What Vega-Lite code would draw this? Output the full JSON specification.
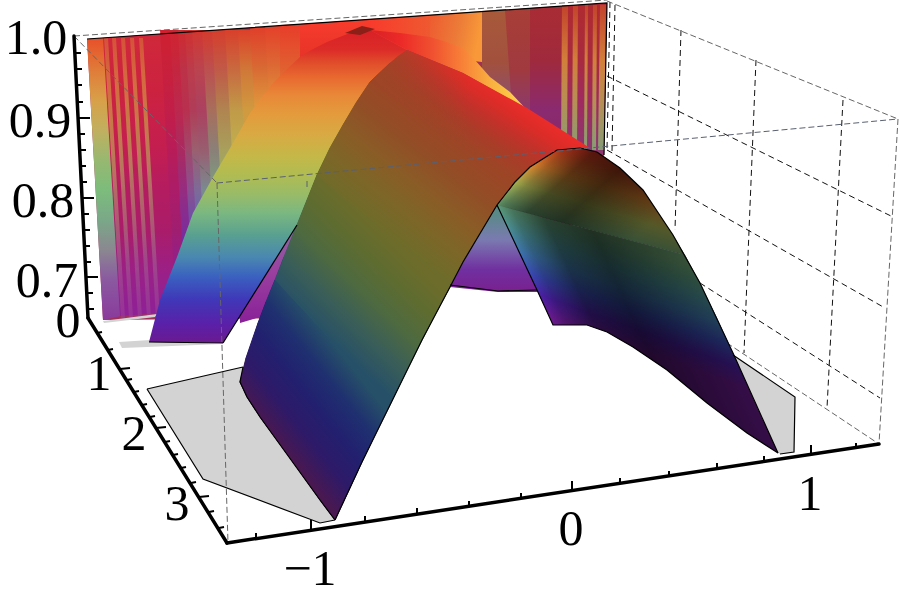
{"$schema":"https://vega.github.io/schema/vega-lite/v6.json","width":900,"height":599,"padding":0,"autosize":"none","background":"white","config":{"view":{"stroke":null}},
"encoding":{"x":{"field":"x","type":"quantitative","scale":{"domain":[0,900],"nice":false,"zero":false},"axis":null},"y":{"field":"y","type":"quantitative","scale":{"domain":[599,0],"nice":false,"zero":false},"axis":null}},
"datasets":{
"griddark":[{"x":610,"y":2,"x2":607,"y2":150},{"x":615,"y":5,"x2":612,"y2":152},{"x":681,"y":30,"x2":675,"y2":230},{"x":756,"y":60,"x2":744,"y2":353},{"x":843,"y":100,"x2":827,"y2":408},{"x":607,"y":76,"x2":893,"y2":217},{"x":607,"y":150,"x2":885,"y2":308},{"x":700,"y":283,"x2":880,"y2":398}],
"gridgrey":[{"x":607,"y":1,"x2":898,"y2":119},{"x":898,"y":119,"x2":879,"y2":444},{"x":727,"y":343,"x2":879,"y2":444},{"x":74,"y":36,"x2":607,"y2":0}],
"floor":[{"b":1,"x":[147,243,240,247,260,320,335,320,203],"y":[389,367,382,397,417,500,520,523,479]},{"b":2,"x":[733,795,794,780,778],"y":[355,397,452,454,453]},{"b":3,"x":[119,150,222,122],"y":[342,340,344,348]},{"b":4,"x":[103,157,155,104],"y":[321,314,317,323]}],
"stripesL":[{"b":1,"x":[104,108,125,121],"y":[38,38,318,318]},{"b":2,"x":[112,116,133,129],"y":[38,38,318,318]},{"b":3,"x":[121,125,142,138],"y":[38,38,318,318]},{"b":4,"x":[130,134,151,147],"y":[38,38,318,318]},{"b":5,"x":[139,143,160,156],"y":[38,38,318,318]}],
"stripesR":[{"b":1,"x":[562,568,567,561],"y":[5,5,150,150]},{"b":2,"x":[573,578,577,572],"y":[5,5,150,150]},{"b":3,"x":[585,588,587,584],"y":[5,5,150,150]},{"b":4,"x":[593,597,596,592],"y":[5,5,150,150]},{"b":5,"x":[600,606,604,598],"y":[5,5,150,150]}],
"flank":[
{"b":1,"c":"#3f1a58","x":[240,247,260,290,298,246],"y":[382,397,417,458,424,358]},{"b":2,"c":"#3e1656","x":[290,320,335,349,298],"y":[458,500,520,490,424]},
{"b":3,"c":"#2c1c6c","x":[246,298,310,258],"y":[358,424,392,323]},{"b":4,"c":"#2c1a68","x":[298,349,362,310],"y":[424,490,462,392]},
{"b":5,"c":"#221f72","x":[258,310,321,266],"y":[323,392,367,302]},{"b":6,"c":"#1f2a70","x":[310,362,376,321],"y":[392,462,433,367]},
{"b":7,"c":"#1f3470","x":[266,321,332,275],"y":[302,367,342,280]},{"b":8,"c":"#1f3c6c","x":[321,376,390,332],"y":[367,433,405,342]},
{"b":9,"c":"#2a4c66","x":[275,332,345,284],"y":[280,342,314,257]},{"b":10,"c":"#285268","x":[332,390,406,345],"y":[342,405,372,314]},
{"b":11,"c":"#3a5e5a","x":[284,345,360,297],"y":[257,314,282,225]},{"b":12,"c":"#3f6350","x":[345,406,422,360],"y":[314,372,340,282]},
{"b":13,"c":"#4e6a40","x":[297,360,371,307],"y":[225,282,256,200]},{"b":14,"c":"#506a38","x":[360,422,436,371],"y":[282,340,313,256]},
{"b":15,"c":"#5e6c30","x":[307,371,383,317],"y":[200,256,231,175]},{"b":16,"c":"#5e6a2e","x":[371,436,450,383],"y":[256,313,287,231]},
{"b":17,"c":"#6e6c2a","x":[317,383,396,330],"y":[175,231,205,148]},{"b":18,"c":"#736a28","x":[383,450,463,396],"y":[231,287,262,205]},
{"b":19,"c":"#7d6628","x":[330,396,411,343],"y":[148,205,178,125]},{"b":20,"c":"#7e6226","x":[396,463,480,411],"y":[205,262,232,178]},
{"b":21,"c":"#8a5c26","x":[343,411,426,356],"y":[125,178,154,103]},{"b":22,"c":"#8a5824","x":[411,480,497,426],"y":[178,232,205,154]},
{"b":23,"c":"#924e26","x":[356,426,442,370],"y":[103,154,132,82]},{"b":24,"c":"#964c24","x":[426,497,515,442],"y":[154,205,182,132]},
{"b":25,"c":"#a8402a","x":[370,442,457,390],"y":[82,132,108,63]},{"b":26,"c":"#a84226","x":[442,515,530,457],"y":[132,182,167,108]}],
"outline":[
{"b":1,"x":[335,362,390,422,450,463,497,515,530,557,580,597,620,643,673,700,733,778],"y":[520,462,405,340,287,262,205,182,167,150,148,152,168,190,235,283,353,453]},
{"b":2,"x":[497,537,553,587,607,633,667,707,747,778],"y":[205,290,325,325,332,347,370,403,433,453]},
{"b":3,"x":[243,240,247,260,320,335],"y":[367,382,397,417,500,520]},
{"b":4,"x":[223,297],"y":[343,225]},
{"b":5,"x":[149,223],"y":[342,343]},
{"b":6,"x":[450,498,537],"y":[285,291,290]},
{"b":7,"x":[87,607,604],"y":[39,3,155]},
{"b":8,"x":[147,243],"y":[389,367]},
{"b":9,"x":[147,203,320,335],"y":[389,479,523,520]},
{"b":10,"x":[733,795,794,780],"y":[355,397,452,454]}],
"ticks":[{"x":75,"y":53,"x2":81,"y2":53},{"x":76,"y":69,"x2":82,"y2":69},{"x":76,"y":85,"x2":82,"y2":85},{"x":77,"y":102,"x2":83,"y2":102},{"x":78,"y":118,"x2":90,"y2":118},{"x":79,"y":134,"x2":85,"y2":134},{"x":80,"y":150,"x2":86,"y2":150},{"x":80,"y":166,"x2":86,"y2":166},{"x":81,"y":182,"x2":87,"y2":182},{"x":82,"y":198,"x2":94,"y2":198},{"x":83,"y":214,"x2":89,"y2":214},{"x":84,"y":230,"x2":90,"y2":230},{"x":84,"y":246,"x2":90,"y2":246},{"x":85,"y":262,"x2":91,"y2":262},{"x":86,"y":277,"x2":98,"y2":277},{"x":87,"y":293,"x2":93,"y2":293},{"x":88,"y":309,"x2":94,"y2":309},
{"x":97,"y":333,"x2":102,"y2":332},{"x":108,"y":350,"x2":113,"y2":349},{"x":120,"y":369,"x2":130,"y2":368},{"x":127,"y":380,"x2":132,"y2":379},{"x":134,"y":392,"x2":139,"y2":391},{"x":142,"y":405,"x2":147,"y2":404},{"x":150,"y":417,"x2":155,"y2":416},{"x":156,"y":428,"x2":166,"y2":427},{"x":165,"y":442,"x2":170,"y2":441},{"x":173,"y":455,"x2":178,"y2":454},{"x":181,"y":468,"x2":186,"y2":467},{"x":191,"y":483,"x2":196,"y2":482},{"x":199,"y":497,"x2":209,"y2":496},{"x":209,"y":512,"x2":214,"y2":511},{"x":219,"y":528,"x2":224,"y2":527},
{"x":256,"y":539,"x2":256,"y2":533},{"x":311,"y":530,"x2":311,"y2":520},{"x":365,"y":522,"x2":365,"y2":516},{"x":417,"y":514,"x2":417,"y2":508},{"x":469,"y":507,"x2":469,"y2":501},{"x":521,"y":499,"x2":521,"y2":493},{"x":572,"y":491,"x2":572,"y2":481},{"x":620,"y":484,"x2":620,"y2":478},{"x":669,"y":477,"x2":669,"y2":471},{"x":717,"y":469,"x2":717,"y2":463},{"x":764,"y":462,"x2":764,"y2":456},{"x":811,"y":455,"x2":811,"y2":445},{"x":856,"y":449,"x2":856,"y2":443}],
"labels":[{"t":"1.0","x":36,"y":54},{"t":"0.9","x":40,"y":137},{"t":"0.8","x":43,"y":217},{"t":"0.7","x":47,"y":297},{"t":"0","x":68,"y":337},{"t":"1","x":99,"y":390},{"t":"2","x":134,"y":450},{"t":"3","x":177,"y":520},{"t":"−1","x":310,"y":585},{"t":"0","x":571,"y":545},{"t":"1","x":810,"y":510}]
},
"layer":[
{"data":{"name":"griddark"},"mark":{"type":"rule","stroke":"#111","strokeWidth":1,"strokeDash":[6,4]},"encoding":{"x2":{"field":"x2"},"y2":{"field":"y2"}}},
{"data":{"name":"gridgrey"},"mark":{"type":"rule","stroke":"#666","strokeWidth":1,"strokeDash":[6,3]},"encoding":{"x2":{"field":"x2"},"y2":{"field":"y2"}}},
{"data":{"values":[{"x":[87,607,604,540,450,300,103],"y":[39,3,155,290,285,318,320]}]},"transform":[{"flatten":["x","y"]}],"mark":{"type":"line","interpolate":"linear-closed","stroke":null,"fill":"#a03058"},"encoding":{"order":{"value":null}}},
{"data":{"values":[{"x":[87,104,121,103],"y":[39,38,316,320]}]},"transform":[{"flatten":["x","y"]}],"mark":{"type":"line","interpolate":"linear-closed","stroke":null,"fill":{"gradient":"linear","x1":0,"y1":0,"x2":0,"y2":1,"stops":[{"offset":0,"color":"#e8502a"},{"offset":0.11,"color":"#e07a38"},{"offset":0.22,"color":"#d8a048"},{"offset":0.33,"color":"#c0b060"},{"offset":0.43,"color":"#98b870"},{"offset":0.54,"color":"#7cbc7c"},{"offset":0.645,"color":"#7aa888"},{"offset":0.75,"color":"#8a8890"},{"offset":0.855,"color":"#8a5aa0"},{"offset":1,"color":"#8a3a9c"}]}},"encoding":{"order":{"value":null}}},
{"data":{"values":[{"x":[103,161,177,120],"y":[38,34,312,316]}]},"transform":[{"flatten":["x","y"]}],"mark":{"type":"line","interpolate":"linear-closed","stroke":null,"fill":{"gradient":"linear","x1":0,"y1":0,"x2":0,"y2":1,"stops":[{"offset":0,"color":"#d0283a"},{"offset":0.2,"color":"#cc2240"},{"offset":0.4,"color":"#c41e50"},{"offset":0.55,"color":"#b41c60"},{"offset":0.7,"color":"#aa1c6a"},{"offset":0.85,"color":"#9a2088"},{"offset":1,"color":"#8e2098"}]}},"encoding":{"order":{"value":null}}},
{"data":{"name":"stripesL"},"transform":[{"flatten":["x","y"]}],"mark":{"type":"line","interpolate":"linear-closed","stroke":null,"opacity":0.65,"fill":{"gradient":"linear","x1":0,"y1":0,"x2":0,"y2":1,"stops":[{"offset":0,"color":"#d86838"},{"offset":0.15,"color":"#d89040"},{"offset":0.3,"color":"#c8a848"},{"offset":0.45,"color":"#b8a860"},{"offset":0.6,"color":"#b08870"},{"offset":0.8,"color":"#a05a90"},{"offset":1,"color":"#9a3a98"}]}},"encoding":{"order":{"value":null},"detail":{"field":"b"}}},
{"data":{"values":[{"x":[160,171,187,176],"y":[30,30,310,310]}]},"transform":[{"flatten":["x","y"]}],"mark":{"type":"line","interpolate":"linear-closed","stroke":null,"fill":{"gradient":"linear","x1":0,"y1":0,"x2":0,"y2":1,"stops":[{"offset":0,"color":"#d02030"},{"offset":0.143,"color":"#c8203c"},{"offset":0.286,"color":"#c21e48"},{"offset":0.429,"color":"#b81c58"},{"offset":0.571,"color":"#ac1c68"},{"offset":0.714,"color":"#a01e70"},{"offset":0.857,"color":"#8e2090"},{"offset":1,"color":"#8a2098"}]}},"encoding":{"order":{"value":null}}},
{"data":{"values":[{"x":[170,179,195,186],"y":[30,30,310,310]}]},"transform":[{"flatten":["x","y"]}],"mark":{"type":"line","interpolate":"linear-closed","stroke":null,"fill":{"gradient":"linear","x1":0,"y1":0,"x2":0,"y2":1,"stops":[{"offset":0,"color":"#d02430"},{"offset":0.143,"color":"#c42640"},{"offset":0.286,"color":"#bc284e"},{"offset":0.429,"color":"#aa2a60"},{"offset":0.571,"color":"#962c80"},{"offset":0.714,"color":"#7e2c9a"},{"offset":0.857,"color":"#5e2ca8"},{"offset":1,"color":"#5030b0"}]}},"encoding":{"order":{"value":null}}},
{"data":{"values":[{"x":[178,186,202,194],"y":[30,30,310,310]}]},"transform":[{"flatten":["x","y"]}],"mark":{"type":"line","interpolate":"linear-closed","stroke":null,"fill":{"gradient":"linear","x1":0,"y1":0,"x2":0,"y2":1,"stops":[{"offset":0,"color":"#d02a30"},{"offset":0.143,"color":"#bc3248"},{"offset":0.286,"color":"#b8304f"},{"offset":0.429,"color":"#a0486c"},{"offset":0.571,"color":"#8a5090"},{"offset":0.714,"color":"#6450b0"},{"offset":0.857,"color":"#4c40b8"},{"offset":1,"color":"#4038b8"}]}},"encoding":{"order":{"value":null}}},
{"data":{"values":[{"x":[185,193,209,201],"y":[30,30,310,310]}]},"transform":[{"flatten":["x","y"]}],"mark":{"type":"line","interpolate":"linear-closed","stroke":null,"fill":{"gradient":"linear","x1":0,"y1":0,"x2":0,"y2":1,"stops":[{"offset":0,"color":"#d03030"},{"offset":0.143,"color":"#bc3c4c"},{"offset":0.286,"color":"#b03c58"},{"offset":0.429,"color":"#9a6070"},{"offset":0.571,"color":"#7e6a98"},{"offset":0.714,"color":"#5a68b8"},{"offset":0.857,"color":"#4050c0"},{"offset":1,"color":"#4040c0"}]}},"encoding":{"order":{"value":null}}},
{"data":{"values":[{"x":[192,203,219,208],"y":[30,30,310,310]}]},"transform":[{"flatten":["x","y"]}],"mark":{"type":"line","interpolate":"linear-closed","stroke":null,"fill":{"gradient":"linear","x1":0,"y1":0,"x2":0,"y2":1,"stops":[{"offset":0,"color":"#d23630"},{"offset":0.143,"color":"#ba4450"},{"offset":0.286,"color":"#ac4060"},{"offset":0.429,"color":"#985e70"},{"offset":0.571,"color":"#7a8a90"},{"offset":0.714,"color":"#5a80b0"},{"offset":0.857,"color":"#4860c0"},{"offset":1,"color":"#4050c0"}]}},"encoding":{"order":{"value":null}}},
{"data":{"values":[{"x":[202,213,229,218],"y":[30,30,310,310]}]},"transform":[{"flatten":["x","y"]}],"mark":{"type":"line","interpolate":"linear-closed","stroke":null,"fill":{"gradient":"linear","x1":0,"y1":0,"x2":0,"y2":1,"stops":[{"offset":0,"color":"#d43a2c"},{"offset":0.143,"color":"#bc5050"},{"offset":0.286,"color":"#a86e5c"},{"offset":0.429,"color":"#8a8078"},{"offset":0.571,"color":"#7ca080"},{"offset":0.714,"color":"#60a090"},{"offset":0.857,"color":"#4a88b0"},{"offset":1,"color":"#4070c0"}]}},"encoding":{"order":{"value":null}}},
{"data":{"values":[{"x":[212,226,242,228],"y":[30,30,310,310]}]},"transform":[{"flatten":["x","y"]}],"mark":{"type":"line","interpolate":"linear-closed","stroke":null,"fill":{"gradient":"linear","x1":0,"y1":0,"x2":0,"y2":1,"stops":[{"offset":0,"color":"#d63e2c"},{"offset":0.143,"color":"#c05a48"},{"offset":0.286,"color":"#b08450"},{"offset":0.429,"color":"#a8a05c"},{"offset":0.571,"color":"#90b070"},{"offset":1,"color":"#70b080"}]}},"encoding":{"order":{"value":null}}},
{"data":{"values":[{"x":[225,239,255,241],"y":[30,30,310,310]}]},"transform":[{"flatten":["x","y"]}],"mark":{"type":"line","interpolate":"linear-closed","stroke":null,"fill":{"gradient":"linear","x1":0,"y1":0,"x2":0,"y2":1,"stops":[{"offset":0,"color":"#d8402c"},{"offset":0.143,"color":"#c86a40"},{"offset":0.286,"color":"#c09a48"},{"offset":0.429,"color":"#c0b050"},{"offset":1,"color":"#a8bb60"}]}},"encoding":{"order":{"value":null}}},
{"data":{"values":[{"x":[238,251,267,254],"y":[30,30,310,310]}]},"transform":[{"flatten":["x","y"]}],"mark":{"type":"line","interpolate":"linear-closed","stroke":null,"fill":{"gradient":"linear","x1":0,"y1":0,"x2":0,"y2":1,"stops":[{"offset":0,"color":"#dc402a"},{"offset":0.143,"color":"#d07838"},{"offset":0.286,"color":"#d09a40"},{"offset":1,"color":"#c0b050"}]}},"encoding":{"order":{"value":null}}},
{"data":{"values":[{"x":[250,266,282,266],"y":[28,28,310,310]}]},"transform":[{"flatten":["x","y"]}],"mark":{"type":"line","interpolate":"linear-closed","stroke":null,"fill":{"gradient":"linear","x1":0,"y1":0,"x2":0,"y2":1,"stops":[{"offset":0,"color":"#e0402a"},{"offset":0.143,"color":"#d86a34"},{"offset":0.286,"color":"#e09a3c"},{"offset":1,"color":"#d0a840"}]}},"encoding":{"order":{"value":null}}},
{"data":{"values":[{"x":[265,281,297,281],"y":[26,26,310,310]}]},"transform":[{"flatten":["x","y"]}],"mark":{"type":"line","interpolate":"linear-closed","stroke":null,"fill":{"gradient":"linear","x1":0,"y1":0,"x2":0,"y2":1,"stops":[{"offset":0,"color":"#e4402a"},{"offset":0.143,"color":"#dc6a34"},{"offset":0.286,"color":"#e49a3c"},{"offset":1,"color":"#d0a840"}]}},"encoding":{"order":{"value":null}}},
{"data":{"values":[{"x":[280,301,301,280],"y":[25,24,200,200]}]},"transform":[{"flatten":["x","y"]}],"mark":{"type":"line","interpolate":"linear-closed","stroke":null,"fill":{"gradient":"linear","x1":0,"y1":0,"x2":0,"y2":1,"stops":[{"offset":0,"color":"#e83c2a"},{"offset":0.25,"color":"#e06030"},{"offset":0.5,"color":"#e89038"},{"offset":1,"color":"#d8a040"}]}},"encoding":{"order":{"value":null}}},
{"data":{"values":[{"x":[300,371,371,300],"y":[24,19,50,70]}]},"transform":[{"flatten":["x","y"]}],"mark":{"type":"line","interpolate":"linear-closed","stroke":null,"fill":{"gradient":"linear","x1":0,"y1":0,"x2":0,"y2":1,"stops":[{"offset":0,"color":"#f83c2c"},{"offset":1,"color":"#e03028"}]}},"encoding":{"order":{"value":null}}},
{"data":{"values":[{"x":[370,431,431,370],"y":[19,15,50,50]}]},"transform":[{"flatten":["x","y"]}],"mark":{"type":"line","interpolate":"linear-closed","stroke":null,"fill":{"gradient":"linear","x1":0,"y1":0,"x2":1,"y2":0,"stops":[{"offset":0,"color":"#f83a2c"},{"offset":1,"color":"#ee5a30"}]}},"encoding":{"order":{"value":null}}},
{"data":{"values":[{"x":[430,482,482,465,430],"y":[15,11,62,60,45]}]},"transform":[{"flatten":["x","y"]}],"mark":{"type":"line","interpolate":"linear-closed","stroke":null,"fill":{"gradient":"linear","x1":0,"y1":0,"x2":1,"y2":0.2,"stops":[{"offset":0,"color":"#ee5a30"},{"offset":0.6,"color":"#ec7c38"},{"offset":1,"color":"#f89838"}]}},"encoding":{"order":{"value":null}}},
{"data":{"values":[{"x":[482,506,512,482],"y":[11,9,100,75]}]},"transform":[{"flatten":["x","y"]}],"mark":{"type":"line","interpolate":"linear-closed","stroke":null,"fill":{"gradient":"linear","x1":0,"y1":0,"x2":0,"y2":1,"stops":[{"offset":0,"color":"#a85a3a"},{"offset":0.6,"color":"#a2503e"},{"offset":1,"color":"#8e5070"}]}},"encoding":{"order":{"value":null}}},
{"data":{"values":[{"x":[505,531,531,511],"y":[10,8,112,95]}]},"transform":[{"flatten":["x","y"]}],"mark":{"type":"line","interpolate":"linear-closed","stroke":null,"fill":{"gradient":"linear","x1":0,"y1":0,"x2":0,"y2":1,"stops":[{"offset":0,"color":"#a83e36"},{"offset":0.6,"color":"#a03a40"},{"offset":1,"color":"#8a3a70"}]}},"encoding":{"order":{"value":null}}},
{"data":{"values":[{"x":[530,562,562,530],"y":[8,6,140,112]}]},"transform":[{"flatten":["x","y"]}],"mark":{"type":"line","interpolate":"linear-closed","stroke":null,"fill":{"gradient":"linear","x1":0,"y1":0,"x2":0,"y2":1,"stops":[{"offset":0,"color":"#a82c34"},{"offset":0.4,"color":"#a02a3c"},{"offset":0.78,"color":"#8a2a70"},{"offset":1,"color":"#8a2a6a"}]}},"encoding":{"order":{"value":null}}},
{"data":{"values":[{"x":[561,607,604,590,561],"y":[6,3,155,150,135]}]},"transform":[{"flatten":["x","y"]}],"mark":{"type":"line","interpolate":"linear-closed","stroke":null,"fill":{"gradient":"linear","x1":0,"y1":0,"x2":0,"y2":1,"stops":[{"offset":0,"color":"#b02a30"},{"offset":0.375,"color":"#a82a40"},{"offset":0.64,"color":"#a02a60"},{"offset":1,"color":"#8a3a70"}]}},"encoding":{"order":{"value":null}}},
{"data":{"name":"stripesR"},"transform":[{"flatten":["x","y"]}],"mark":{"type":"line","interpolate":"linear-closed","stroke":null,"opacity":0.75,"fill":{"gradient":"linear","x1":0,"y1":0,"x2":0,"y2":1,"stops":[{"offset":0,"color":"#c84a2a"},{"offset":0.38,"color":"#e09a3a"},{"offset":0.66,"color":"#c0b050"},{"offset":1,"color":"#84bc78"}]}},"encoding":{"order":{"value":null},"detail":{"field":"b"}}},
{"data":{"values":[{"x":[440,540,540,498,450,440],"y":[195,195,292,292,287,287]}]},"transform":[{"flatten":["x","y"]}],"mark":{"type":"line","interpolate":"linear-closed","stroke":null,"fill":{"gradient":"linear","x1":0,"y1":0,"x2":0,"y2":1,"stops":[{"offset":0,"color":"#5a8a88"},{"offset":0.2,"color":"#5a8a88"},{"offset":0.46,"color":"#7a7ab0"},{"offset":0.77,"color":"#7030a0"},{"offset":1,"color":"#7a2090"}]}},"encoding":{"order":{"value":null}}},
{"data":{"values":[{"x":[235,300,300,260,240],"y":[220,220,318,317,323]}]},"transform":[{"flatten":["x","y"]}],"mark":{"type":"line","interpolate":"linear-closed","stroke":null,"fill":{"gradient":"linear","x1":0,"y1":0,"x2":0,"y2":1,"stops":[{"offset":0,"color":"#8a70a0"},{"offset":0.5,"color":"#9a40a0"},{"offset":1,"color":"#8a2098"}]}},"encoding":{"order":{"value":null}}},
{"data":{"name":"floor"},"transform":[{"flatten":["x","y"]}],"mark":{"type":"line","interpolate":"linear-closed","fill":"#d3d3d3","stroke":null},"encoding":{"order":{"value":null},"detail":{"field":"b"}}},
{"data":{"values":[{"x":[149,160,177,185,193,203,213,223,233,250,262,273,287,300,313,327,350,370,407,390,370,343,317,297,223],"y":[342,300,257,235,213,195,177,160,143,113,97,83,69,57,49,42,33,30,50,63,82,125,175,225,343]}]},"transform":[{"flatten":["x","y"]}],"mark":{"type":"line","interpolate":"linear-closed","stroke":null,"fill":{"gradient":"linear","x1":0,"y1":0,"x2":0,"y2":1,"stops":[{"offset":0,"color":"#d82026"},{"offset":0.064,"color":"#dc2c28"},{"offset":0.1,"color":"#e04a2a"},{"offset":0.153,"color":"#e86a30"},{"offset":0.208,"color":"#e88838"},{"offset":0.265,"color":"#e49a3c"},{"offset":0.335,"color":"#d8aa44"},{"offset":0.405,"color":"#c4b848"},{"offset":0.463,"color":"#b0bc52"},{"offset":0.527,"color":"#98bb68"},{"offset":0.585,"color":"#7ab880"},{"offset":0.655,"color":"#5aa090"},{"offset":0.725,"color":"#4a88b0"},{"offset":0.79,"color":"#3a60c0"},{"offset":0.86,"color":"#3f38b8"},{"offset":0.94,"color":"#5a20a8"},{"offset":1,"color":"#6a1a90"}]}},"encoding":{"order":{"value":null}}},
{"data":{"values":[{"x":[370,400,430,447,463,475,490,510,525,463,407],"y":[30,33,37,42,48,60,77,92,108,73,50]}]},"transform":[{"flatten":["x","y"]}],"mark":{"type":"line","interpolate":"linear-closed","stroke":null,"fill":{"gradient":"linear","x1":0,"y1":0,"x2":1,"y2":0,"stops":[{"offset":0,"color":"#d82026"},{"offset":0.2,"color":"#ec2a28"},{"offset":0.4,"color":"#f05030"},{"offset":0.6,"color":"#f88238"},{"offset":0.78,"color":"#f8b040"},{"offset":1,"color":"#ffd848"}]}},"encoding":{"order":{"value":null}}},
{"data":{"values":[{"x":[345,362,375,360],"y":[33,26,29,35]}]},"transform":[{"flatten":["x","y"]}],"mark":{"type":"line","interpolate":"linear-closed","stroke":null,"fill":"#8a2018"},"encoding":{"order":{"value":null}}},
{"data":{"values":[{"x":74,"y":36,"x2":217,"y2":183},{"x":217,"y":183,"x2":228,"y2":543}]},"mark":{"type":"rule","stroke":"#666","strokeWidth":1,"strokeDash":[6,3]},"encoding":{"x2":{"field":"x2"},"y2":{"field":"y2"}}},
{"data":{"values":[{"x":[553,587,607,633,667,707,747,778,762,745,733,717,700,685,497,510,520,530,540,547],"y":[325,325,332,347,370,403,433,453,418,380,353,318,283,255,205,232,255,275,297,312]}]},"transform":[{"flatten":["x","y"]}],"mark":{"type":"line","interpolate":"linear-closed","stroke":null,"fill":{"gradient":"linear","x1":0.484,"y1":0.573,"x2":0.629,"y2":0.222,"stops":[{"offset":0,"color":"#6a1a90"},{"offset":0.18,"color":"#4c20a8"},{"offset":0.36,"color":"#3a4cb8"},{"offset":0.54,"color":"#3f78b0"},{"offset":0.72,"color":"#4a9098"},{"offset":0.88,"color":"#5a9a7c"},{"offset":1,"color":"#6aa070"}]}},"encoding":{"order":{"value":null}}},
{"data":{"values":[{"x":[497,515,530,557,580,597,620,643,673,685],"y":[205,182,167,150,148,152,168,190,235,255]}]},"transform":[{"flatten":["x","y"]}],"mark":{"type":"line","interpolate":"linear-closed","stroke":null,"fill":{"gradient":"linear","x1":0.5,"y1":0.766,"x2":0.812,"y2":0.19,"stops":[{"offset":0,"color":"#6aa070"},{"offset":0.3,"color":"#a8b050"},{"offset":0.6,"color":"#d8802c"},{"offset":0.85,"color":"#d04820"},{"offset":1,"color":"#d03020"}]}},"encoding":{"order":{"value":null}}},
{"data":{"values":[{"x":[553,587,607,633,667,707,747,778,762,745,733,717,700,685,497,510,520,530,540,547],"y":[325,325,332,347,370,403,433,453,418,380,353,318,283,254.8,204.8,232,255,275,297,312]}]},"transform":[{"flatten":["x","y"]}],"mark":{"type":"line","interpolate":"linear-closed","stroke":null,"blend":"multiply","fill":{"gradient":"linear","x1":0.1,"y1":0.243,"x2":0.608,"y2":0.033,"stops":[{"offset":0,"color":"#ffffff"},{"offset":0.08,"color":"#bfbfbf"},{"offset":0.25,"color":"#6b6b6b"},{"offset":0.5,"color":"#4d4d4d"},{"offset":1,"color":"#808080"}]}},"encoding":{"order":{"value":null}}},
{"data":{"values":[{"x":[497,515,530,557,580,597,620,643,673,685],"y":[205,182,167,150,148,152,168,190,235,255]}]},"transform":[{"flatten":["x","y"]}],"mark":{"type":"line","interpolate":"linear-closed","stroke":null,"blend":"multiply","fill":{"gradient":"linear","x1":0.122,"y1":0.28,"x2":0.815,"y2":0.71,"stops":[{"offset":0,"color":"#ffffff"},{"offset":0.08,"color":"#bfbfbf"},{"offset":0.25,"color":"#6b6b6b"},{"offset":0.5,"color":"#4d4d4d"},{"offset":1,"color":"#808080"}]}},"encoding":{"order":{"value":null}}},
{"data":{"name":"flank"},"transform":[{"flatten":["x","y"]}],"mark":{"type":"line","interpolate":"linear-closed","strokeWidth":1},"encoding":{"order":{"value":null},"detail":{"field":"b"},"fill":{"field":"c","type":"nominal","scale":null},"stroke":{"field":"c","type":"nominal","scale":null}}},
{"data":{"values":[{"x":[370,390,398,407,463,527,590,580,565,545,530,515],"y":[82,63,56,50,73,108,148,148,149,156,167,182]}]},"transform":[{"flatten":["x","y"]}],"mark":{"type":"line","interpolate":"linear-closed","stroke":null,"fill":{"gradient":"linear","x1":0.327,"y1":0.621,"x2":0.631,"y2":0.347,"stops":[{"offset":0,"color":"#9c4626"},{"offset":0.3,"color":"#aa3c28"},{"offset":0.55,"color":"#c0322a"},{"offset":0.8,"color":"#dc2c28"},{"offset":1,"color":"#ea2c2a"}]}},"encoding":{"order":{"value":null}}},
{"data":{"values":[{"x":[370,390,398,407,463,527,590,580,565,545,530,515],"y":[82,63,56,50,73,108,148,148,149,156,167,182]}]},"transform":[{"flatten":["x","y"]}],"mark":{"type":"line","interpolate":"linear-closed","stroke":null,"fill":{"gradient":"linear","x1":0,"y1":0,"x2":0.45,"y2":0,"stops":[{"offset":0,"color":"rgba(156,70,38,0.85)"},{"offset":1,"color":"rgba(156,70,38,0)"}]}},"encoding":{"order":{"value":null}}},
{"data":{"values":[{"x":[317,330,343,356,370,515,497,480,463,450],"y":[175,148,125,103,82,182,205,232,262,287]}]},"transform":[{"flatten":["x","y"]}],"mark":{"type":"line","interpolate":"linear-closed","stroke":null,"fill":{"gradient":"linear","x1":0.333,"y1":0.727,"x2":0.669,"y2":0.271,"stops":[{"offset":0,"color":"#6e6c2a"},{"offset":0.25,"color":"#7d6628"},{"offset":0.5,"color":"#8a5c26"},{"offset":0.75,"color":"#924e26"},{"offset":1,"color":"#9c4626"}]}},"encoding":{"order":{"value":null}}},
{"data":{"values":[{"x":[275,284,297,307,317,450,436,422,406,390],"y":[280,257,225,200,175,287,313,340,372,405]}]},"transform":[{"flatten":["x","y"]}],"mark":{"type":"line","interpolate":"linear-closed","stroke":null,"fill":{"gradient":"linear","x1":0.326,"y1":0.726,"x2":0.655,"y2":0.271,"stops":[{"offset":0,"color":"#265068"},{"offset":0.25,"color":"#3a5e58"},{"offset":0.5,"color":"#4e6a40"},{"offset":0.75,"color":"#5e6c30"},{"offset":1,"color":"#6e6c2a"}]}},"encoding":{"order":{"value":null}}},
{"data":{"values":[{"x":[240,247,260,320,335,349,362,376,390,332,275,266,258,246],"y":[382,397,417,500,520,490,462,433,405,342,280,302,323,358]}]},"transform":[{"flatten":["x","y"]}],"mark":{"type":"line","interpolate":"linear-closed","stroke":null,"fill":{"gradient":"linear","x1":0.333,"y1":0.742,"x2":0.675,"y2":0.306,"stops":[{"offset":0,"color":"#4a1850"},{"offset":0.25,"color":"#2e1a68"},{"offset":0.5,"color":"#22206f"},{"offset":0.75,"color":"#1f3070"},{"offset":1,"color":"#265068"}]}},"encoding":{"order":{"value":null}}},
{"data":{"name":"outline"},"transform":[{"flatten":["x","y"]}],"mark":{"type":"line","stroke":"#000","strokeWidth":1.2},"encoding":{"order":{"value":null},"detail":{"field":"b"}}},
{"data":{"values":[{"x":217,"y":183,"x2":898,"y2":119},{"x":307,"y":181,"x2":307,"y2":190}]},"mark":{"type":"rule","stroke":"#5a6070","strokeWidth":1,"strokeDash":[6,3]},"encoding":{"x2":{"field":"x2"},"y2":{"field":"y2"}}},
{"data":{"values":[{"x":74,"y":36,"x2":88,"y2":318},{"x":88,"y":318,"x2":227,"y2":543},{"x":227,"y":543,"x2":879,"y2":444}]},"mark":{"type":"rule","stroke":"#000","strokeWidth":3.5,"strokeCap":"round"},"encoding":{"x2":{"field":"x2"},"y2":{"field":"y2"}}},
{"data":{"name":"ticks"},"mark":{"type":"rule","stroke":"#000","strokeWidth":2},"encoding":{"x2":{"field":"x2"},"y2":{"field":"y2"}}},
{"data":{"name":"labels"},"mark":{"type":"text","font":"Liberation Serif","fontSize":50,"align":"center","baseline":"alphabetic","color":"#000"},"encoding":{"text":{"field":"t"}}}
]}
